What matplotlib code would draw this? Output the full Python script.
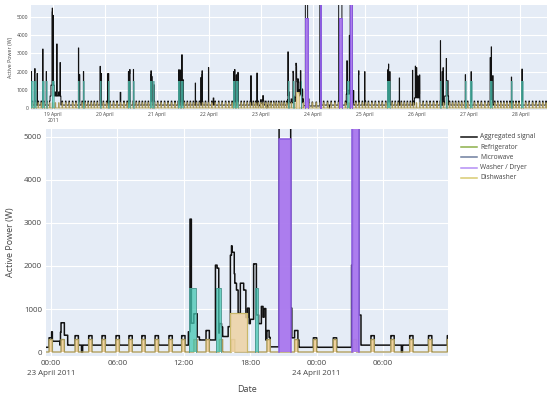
import numpy as np
import matplotlib
matplotlib.use("Agg")
import matplotlib.pyplot as plt
from matplotlib.lines import Line2D

# ---------------- data (time in hours since 2011-04-18 00:00) ----------------
# refrigerator compressor start times (h)
fridge_on = [14.3, 15.6, 17.0, 18.4, 19.7, 21.0, 22.3, 23.6,
             24.9, 26.5, 28.1, 29.7, 31.3, 32.9, 34.4, 35.9, 37.3, 38.7, 40.1, 41.5, 42.9, 44.3, 45.7, 47.1,
             48.6, 50.2, 51.8, 53.4, 55.0, 56.6, 58.1, 59.5, 60.9, 62.3, 63.7, 65.1, 66.5, 67.9, 69.3, 70.7,
             72.2, 73.8, 75.4, 77.0, 78.6, 80.2, 81.7, 83.1, 84.5, 85.9, 87.3, 88.7, 90.1, 91.5, 92.9, 94.3, 95.7,
             97.2, 98.8, 100.4, 102.0, 103.6, 105.1, 106.6, 108.0, 109.4, 110.8, 112.2, 113.6, 115.0, 116.4, 117.5, 118.7,
             119.82, 120.9, 122.17, 123.4, 124.6, 125.87, 127.04, 128.2, 129.4, 130.65, 131.8, 132.9, 134.0,
             135.2, 136.3, 139.5, 142.0, 143.7, 145.5, 147.3, 148.9, 150.7, 152.4, 154.1, 155.8,
             157.4, 159.0, 160.6, 162.2, 163.8, 165.3, 166.8, 168.2, 169.6, 171.2, 172.8, 174.4, 176.0, 177.6,
             179.1, 180.6, 182.0, 183.4, 184.8, 186.2, 187.6, 189.0, 190.4, 191.8, 193.3, 194.9, 196.5, 198.1,
             199.7, 201.3, 202.8, 204.3, 205.7, 207.1, 208.5, 209.9, 211.3, 212.7, 214.1, 215.5, 217.0, 218.6,
             220.2, 221.8, 223.4, 225.0, 226.5, 228.0, 229.4, 230.8, 232.2, 233.6, 235.0, 236.4, 237.8, 239.2,
             240.7, 242.3, 243.9, 245.5, 247.1, 248.7, 250.2, 251.7]
fridge_duration = 0.3
fridge_power = 290
fridge_in_aggregate = 220
base_load = 160

# other loads seen in the aggregated signal: start (h), end (h), extra power (W)
other_start = [119.5, 120.05, 120.85, 121.2, 122.75, 132.4, 132.55, 132.68, 133.2, 133.4, 134.85, 135.0,
               135.15, 135.4, 136.0, 136.2, 136.35, 136.55, 136.75, 136.9, 137.1, 137.4, 137.6, 137.75,
               137.9, 138.0, 138.3, 138.55, 138.75, 139.0, 139.15, 139.25, 139.4, 139.7, 140.6, 141.65,
               141.75, 142.0, 142.4, 147.15, 147.25, 147.8, 151.65,
               13.9, 15.5, 16.6, 19.2, 20.8, 22.6, 23.0, 23.5, 24.0, 25.7, 27.2, 35.7, 36.2, 38.0, 45.7,
               46.2, 49.2, 49.6, 55.0, 58.8, 59.4, 61.1, 69.2, 69.6, 70.5, 82.0, 82.6, 83.5, 84.0, 89.7,
               92.3, 92.8, 95.8, 98.0, 107.4, 107.9, 108.6, 109.4, 115.4, 118.2,
               156.3, 156.0, 159.5, 159.8, 160.9, 161.3, 162.6, 165.2, 168.0, 178.6, 179.0, 179.6, 184.0,
               190.1, 191.0, 191.4, 192.0, 192.6, 193.4, 203.0, 203.8, 204.2, 205.0, 205.7, 206.3, 214.5,
               217.2, 226.0, 226.0, 226.5, 227.2, 235.8, 240.7]
other_end = [120.05, 120.8, 121.2, 121.5, 122.85, 132.55, 132.68, 133.2, 133.4, 134.85, 135.0, 135.15,
             135.4, 136.0, 136.2, 136.35, 136.55, 136.75, 136.9, 137.1, 137.4, 137.6, 137.75, 137.9,
             138.0, 138.3, 138.55, 138.75, 139.0, 139.15, 139.25, 139.4, 139.7, 140.6, 141.65, 141.75,
             142.0, 142.4, 147.15, 147.25, 147.8, 148.0, 151.75,
             14.05, 15.65, 16.75, 19.35, 20.95, 27.6, 24.5, 23.7, 24.2, 25.85, 27.35, 35.85, 36.35, 38.15, 45.85,
             46.35, 49.35, 49.75, 55.3, 58.95, 59.55, 61.25, 69.35, 69.75, 70.7, 82.15, 82.75, 83.65, 84.15, 89.85,
             92.45, 92.95, 95.95, 98.3, 107.55, 108.05, 108.75, 109.55, 115.55, 118.35,
             156.45, 157.5, 162.5, 159.95, 161.1, 162.4, 163.0, 165.35, 168.15, 178.75, 179.15, 179.75, 184.15,
             190.25, 193.5, 191.55, 192.15, 192.75, 193.55, 203.15, 203.95, 204.35, 206.8, 205.85, 206.6, 214.65,
             217.35, 227.0, 226.15, 226.65, 227.35, 235.95, 240.85]
other_power = [-50, 90, 300, 230, -160, 310, 2930, 510, 190, 120, 1860, 1790,
               280, 200, 430, 2090, 1940, 1440, 1280, 740, 1440, 1280, 640, 860,
               500, 600, 1890, 700, 500, 900, 650, 850, 120, -40, 5540, 860,
               170, 120, -50, 1860, 5640, 700, -160,
               1840, 1790, 1740, 3080, 1840, 500, 600, 4010, 3830, 2860, 1840, 3140, 1670, 1840, 1910,
               1740, 1730, 1730, 480, 1840, 1740, 1740, 1670, 1580, 1120, 1940, 1940, 2770, 1400, 1210,
               1520, 1670, 1840, 390, 1840, 1740, 1670, 1580, 1620, 1760,
               2770, 5540, 600, 1840, 3230, 5040, 800, 1670, 1840, 1940, 2040, 1840, 1490,
               1910, 400, 1740, 1440, 1210, 1040, 3320, 1840, 1840, 500, 1840, 840, 1670,
               1620, 300, 2310, 2680, 1620, 1540, 1760]

# sub-metered appliances: start (h), end (h), power (W)
micro_start = [14.0, 15.4, 19.0, 20.6, 23.3, 35.5, 37.8, 45.5, 49.2, 58.6, 61.0, 69.0, 70.3, 81.8, 83.3,
               107.2, 108.5, 132.5, 134.9, 138.4, 160.0, 178.5, 202.7, 205.4, 214.2, 216.9, 225.8, 235.5, 240.4]
micro_end = [14.6, 16.0, 19.6, 21.2, 24.3, 36.2, 38.4, 46.2, 49.8, 59.5, 61.6, 69.8, 70.8, 82.8, 84.0,
             108.0, 109.5, 133.1, 135.4, 138.7, 161.0, 179.9, 203.5, 206.0, 214.8, 217.5, 226.8, 236.1, 241.0]
micro_power = 1500

washer_start = [140.6, 147.17, 156.0, 161.3]
washer_end = [141.65, 147.8, 157.5, 162.4]
washer_power = [4950, 5900, 4950, 5900]

dish_start = [136.2]
dish_end = [137.7]
dish_power = [900]

# tick labels
top_tick_hours = [24, 48, 72, 96, 120, 144, 168, 192, 216, 240]
top_tick_labels = ["19 April\n2011", "20 April", "21 April", "22 April", "23 April",
                   "24 April", "25 April", "26 April", "27 April", "28 April"]
main_tick_hours = [120, 126, 132, 138, 144, 150]
main_tick_labels = ["00:00\n23 April 2011", "06:00", "12:00", "18:00", "00:00\n24 April 2011", "06:00"]
power_ticks = [0, 1000, 2000, 3000, 4000, 5000]
legend_names = ["Aggregated signal", "Refrigerator", "Microwave", "Washer / Dryer", "Dishwasher"]

# ---------------- build series ----------------
t = np.arange(13.5, 253.0, 1 / 120)
agg = np.full_like(t, float(base_load))
fridge = np.zeros_like(t)
for s in fridge_on:
    m = (t >= s) & (t < s + fridge_duration)
    fridge[m] += fridge_power
    agg[m] += fridge_in_aggregate
for s, e, p in zip(other_start, other_end, other_power):
    agg[(t >= s) & (t < e)] += p
agg = np.clip(agg, 0, None)

# ---------------- styling ----------------
BG = "#E5ECF6"
TXT = "#444444"
C_AGG = "#111111"
C_FR_LINE = "#a8995a"
C_FR_FILL = "#f1d29f"
C_MW_LINE = "#4f9a92"
C_MW_FILL = "#45c7b2"
C_WD_LINE = "#8a5ce0"
C_WD_FILL = "#a977ee"
C_DW_LINE = "#c9b86a"
C_DW_FILL = "#eed3a4"
legend_colors = ["#111111", "#8db04a", "#6f7f9f", "#b48ef5", "#d8cc70"]

plt.rcParams["font.family"] = ["Open Sans", "DejaVu Sans"]
fig = plt.figure(figsize=(5.5, 3.93), dpi=100)


def events(ax, starts, ends, powers, fc, ec, alpha, lw, z):
    for s, e, p in zip(starts, ends, powers):
        ax.fill_between([s, e], 0, [p, p], facecolor=fc, alpha=alpha, lw=0, zorder=z)
        ax.plot([s, s, e, e], [0, p, p, 0], color=ec, lw=lw, zorder=z)


def draw(ax, lw):
    ax.set_facecolor(BG)
    ax.plot(t, agg, color=C_AGG, lw=lw, drawstyle="steps-post", zorder=3)
    ax.fill_between(t, 0, fridge, step="post", color=C_FR_FILL, lw=0, zorder=4)
    ax.plot(t, fridge, color=C_FR_LINE, lw=lw * 0.9, drawstyle="steps-post", zorder=4)
    events(ax, micro_start, micro_end, [micro_power] * len(micro_start),
           C_MW_FILL, C_MW_LINE, 0.75, lw * 0.6, 5)
    events(ax, washer_start, washer_end, washer_power, C_WD_FILL, C_WD_LINE, 0.95, lw, 6)
    events(ax, dish_start, dish_end, dish_power, C_DW_FILL, C_DW_LINE, 0.85, lw * 0.8, 5)
    for sp in ax.spines.values():
        sp.set_visible(False)
    ax.set_yticks(power_ticks)
    ax.grid(True, color="white", lw=0.8, zorder=0)
    ax.set_axisbelow(True)
    ax.tick_params(length=0, colors=TXT)


# top overview panel
ax1 = fig.add_axes([31 / 550, 1 - 110 / 393, 516 / 550, 105 / 393])
draw(ax1, 0.7)
ax1.set_xlim(13.8, 252.3)
ax1.set_ylim(-110, 5660)
ax1.set_xticks(top_tick_hours)
ax1.set_xticklabels(top_tick_labels, fontsize=3.6, color=TXT)
ax1.tick_params(axis="y", labelsize=3.6, pad=2)
ax1.tick_params(axis="x", pad=1.5)
ax1.set_ylabel("Active Power (W)", fontsize=3.8, color=TXT, labelpad=3)

# main zoomed panel
ax2 = fig.add_axes([46 / 550, 1 - 356 / 393, 402 / 550, 227 / 393])
draw(ax2, 1.1)
ax2.axhline(0, color="white", lw=1.6, zorder=1)
ax2.set_xlim(119.55, 155.87)
ax2.set_ylim(-93, 5186)
ax2.set_xticks(main_tick_hours)
ax2.set_xticklabels(main_tick_labels, fontsize=5.7, color=TXT, linespacing=1.6)
ax2.tick_params(axis="y", labelsize=5.7, pad=3)
ax2.tick_params(axis="x", pad=3)
ax2.set_xlabel("Date", fontsize=6.5, color=TXT, labelpad=6)
ax2.set_ylabel("Active Power (W)", fontsize=6.5, color=TXT, labelpad=6)

# legend
for i, (name, col) in enumerate(zip(legend_names, legend_colors)):
    y = 1 - (137 + 10.2 * i) / 393
    fig.add_artist(Line2D([461 / 550, 477 / 550], [y, y], transform=fig.transFigure,
                          color=col, lw=1.1))
    fig.text(480 / 550, y, name, fontsize=4.8, color=TXT, va="center", ha="left")

fig.savefig("out.png", dpi=100)
